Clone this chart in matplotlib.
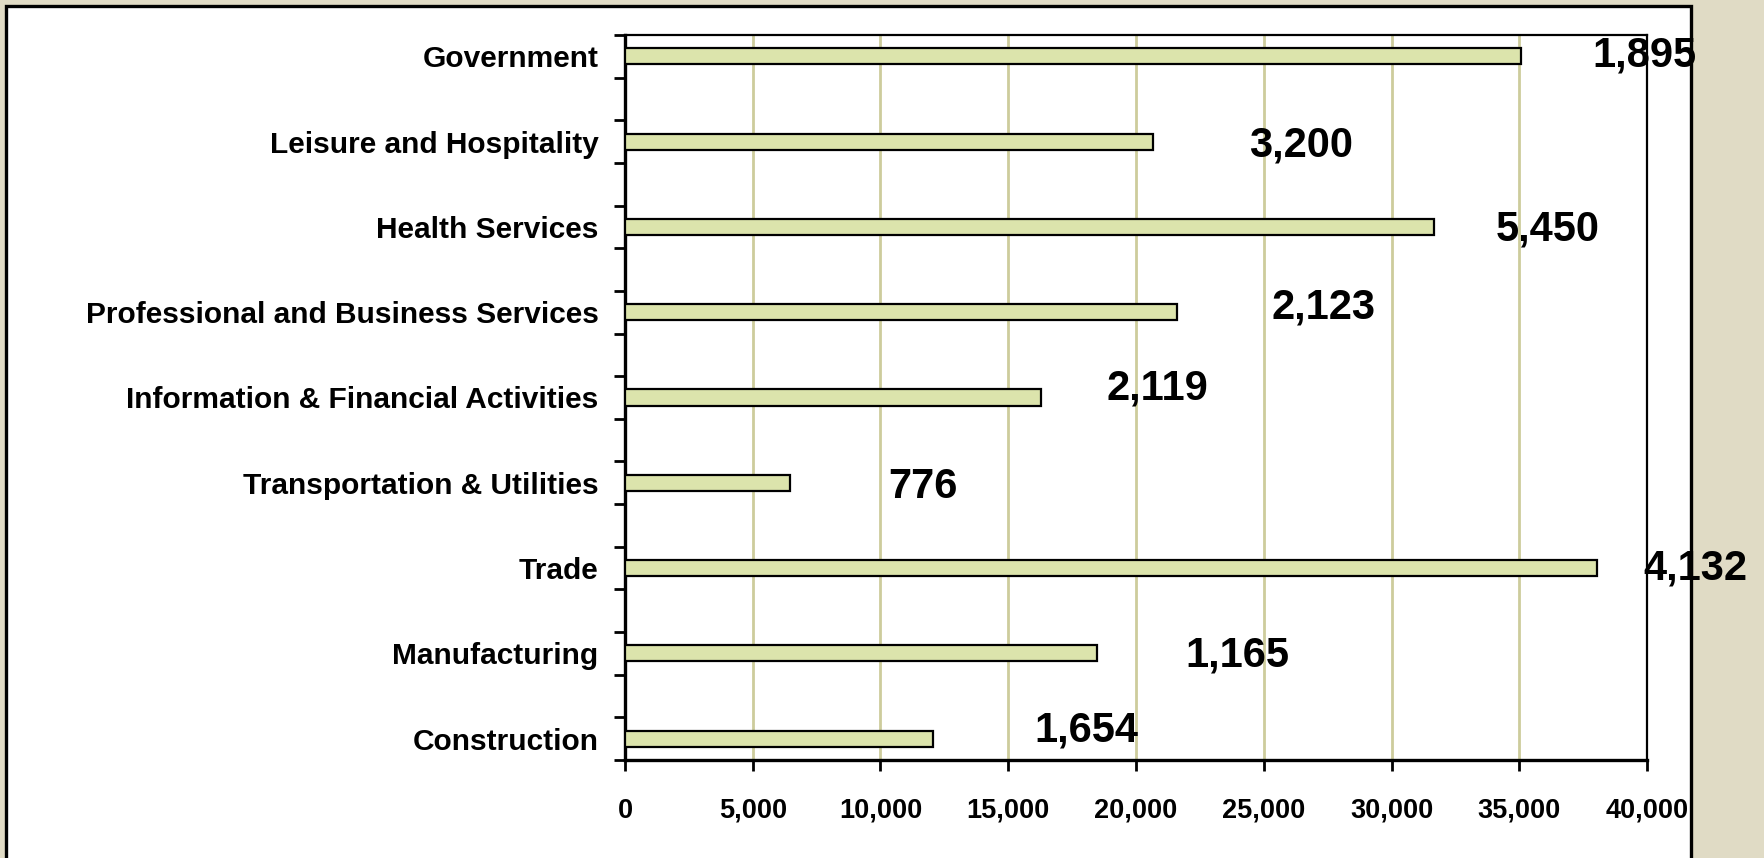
import matplotlib.pyplot as plt
from matplotlib.patches import Rectangle
from matplotlib.ticker import FuncFormatter

# categories listed bottom to top
sectors = ["Construction", "Manufacturing", "Trade", "Transportation & Utilities",
           "Information & Financial Activities", "Professional and Business Services",
           "Health Services", "Leisure and Hospitality", "Government"]
employment = [12055, 18474, 38043, 6458, 16282, 21624, 31676, 20678, 35050]
change_labels = ["1,654", "1,165", "4,132", "776", "2,119", "2,123", "5,450", "3,200", "1,895"]

# where the hand-placed number boxes sit (x in data units, y in category units)
label_x = [18043, 23973, 41879, 11663, 20822, 27319, 36125, 26458, 39883]
label_y = [0.10, 0.97, 1.99, 2.95, 4.10, 5.06, 5.97, 6.96, 8.01]

plt.rcParams['font.family'] = ['Liberation Sans', 'DejaVu Sans']
plt.rcParams['font.weight'] = 'bold'

fig = plt.figure(figsize=(17.65, 8.58), dpi=100)
fig.patch.set_facecolor('#E0DBC5')

# white chart area with black frame
fig.patches.append(Rectangle((6.5 / 1765, -0.05), (1691 - 6.5) / 1765, 1.05 - 6.5 / 858,
                             transform=fig.transFigure, facecolor='white',
                             edgecolor='black', linewidth=2.4, zorder=-1))

ax = fig.add_axes([625 / 1765, 1 - 760 / 858, 1022 / 1765, 725 / 858])
ax.set_facecolor('white')

pos = list(range(len(sectors)))
ax.barh(pos, employment, height=0.19, color='#DCE4AC', edgecolor='black',
        linewidth=1.6, zorder=3)

for x, y, t in zip(label_x, label_y, change_labels):
    ax.text(x, y, t, ha='center', va='center', fontsize=30, fontweight='bold',
            clip_on=False, zorder=10)

ax.set_xlim(0, 40000)
ax.set_ylim(-0.25, 8.25)

ax.set_xticks(range(0, 40001, 5000))
ax.xaxis.set_major_formatter(FuncFormatter(lambda v, p: f"{int(v):,}"))
ax.xaxis.grid(True, color='#CDCC9C', linewidth=2, zorder=0)
ax.set_axisbelow(True)
ax.tick_params(axis='x', direction='out', length=8, width=2, pad=19, labelsize=19.5)

ax.set_yticks(pos)
ax.set_yticklabels(sectors, fontsize=21.5, fontweight='bold')
ax.set_yticks([-0.25 + 0.5 * k for k in range(18)], minor=True)
ax.tick_params(axis='y', which='major', length=0, pad=19)
ax.tick_params(axis='y', which='minor', direction='out', length=8, width=2)

for s in ['left', 'bottom']:
    ax.spines[s].set_linewidth(2.4)
for s in ['top', 'right']:
    ax.spines[s].set_linewidth(1.6)

fig.savefig('out.png', dpi=100, facecolor=fig.get_facecolor())
